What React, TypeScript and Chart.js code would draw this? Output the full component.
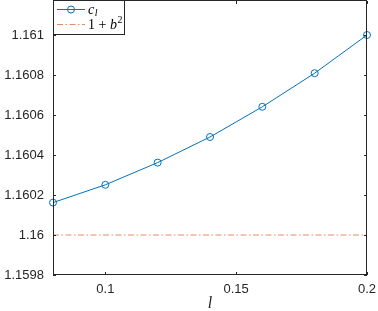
import React, { useEffect, useRef } from "react";
import { Chart, registerables } from "chart.js";

Chart.register(...registerables);

// ---- data ----
const lValues = [0.08, 0.1, 0.12, 0.14, 0.16, 0.18, 0.2];
const clValues = [1.160162, 1.160251, 1.160362, 1.160490, 1.160641, 1.160809, 1.161];
const bLevel = 1.16; // 1 + b^2
const xTicks = [0.1, 0.15, 0.2];
const yTicks = [1.1598, 1.16, 1.1602, 1.1604, 1.1606, 1.1608, 1.161];
const xRange = [0.08, 0.2];
const yRange = [1.1598, 1.16117];

const BLUE = "#0072BD";
const ORANGE = "#E98A5E";
const AXIS = "#262626";
const DASHDOT = [6, 2.5, 1.5, 2.5];

const fmt = (v: number) => String(parseFloat(v.toFixed(6)));

const framePlugin = {
  id: "frame",
  afterDraw(chart: any) {
    const { ctx, chartArea: a, scales } = chart;
    ctx.save();
    ctx.strokeStyle = AXIS;
    ctx.lineWidth = 1;
    const tl = 3;
    const line = (x1: number, y1: number, x2: number, y2: number) => {
      ctx.beginPath();
      ctx.moveTo(x1, y1);
      ctx.lineTo(x2, y2);
      ctx.stroke();
    };
    for (const v of xTicks) {
      const px = Math.round(scales.x.getPixelForValue(v)) + 0.5;
      line(px, a.bottom, px, a.bottom - tl);
      line(px, a.top, px, a.top + tl);
    }
    for (const v of yTicks) {
      const py = Math.round(scales.y.getPixelForValue(v)) + 0.5;
      line(a.left, py, a.left + tl, py);
      line(a.right, py, a.right - tl, py);
    }
    ctx.strokeRect(a.left + 0.5, a.top - 0.5, a.right - a.left - 1, a.bottom - a.top);

    // legend
    const lx = a.left + 0.5, ly = 0.5, lw = 71, lh = 34;
    ctx.fillStyle = "#ffffff";
    ctx.fillRect(lx, ly, lw, lh);
    ctx.strokeRect(lx, ly, lw, lh);
    const y1 = 9.5, y2 = 24.5;
    // entry 1
    ctx.strokeStyle = BLUE;
    line(57, y1, 85, y1);
    ctx.beginPath();
    ctx.arc(71, y1, 3.5, 0, Math.PI * 2);
    ctx.stroke();
    // entry 2
    ctx.strokeStyle = ORANGE;
    ctx.setLineDash(DASHDOT);
    line(57, y2, 85, y2);
    ctx.setLineDash([]);
    ctx.fillStyle = "#000000";
    ctx.textBaseline = "alphabetic";
    ctx.font = "italic 14px 'Liberation Serif'";
    ctx.fillText("c", 88, y1 + 4);
    const cw = ctx.measureText("c").width;
    ctx.font = "italic 10px 'Liberation Serif'";
    ctx.fillText("l", 88 + cw + 0.5, y1 + 6.5);
    ctx.font = "14px 'Liberation Serif'";
    let x = 88;
    ctx.fillText("1 + ", x, y2 + 4.5);
    x += ctx.measureText("1 + ").width;
    ctx.font = "italic 14px 'Liberation Serif'";
    ctx.fillText("b", x, y2 + 4.5);
    x += ctx.measureText("b").width + 0.5;
    ctx.font = "10px 'Liberation Serif'";
    ctx.fillText("2", x, y2 - 1.5);
    ctx.restore();
  },
};

export default function App() {
  const ref = useRef<HTMLCanvasElement>(null);
  useEffect(() => {
    if (!ref.current) return;
    const chart = new Chart(ref.current, {
      type: "line",
      data: {
        datasets: [
          {
            label: "c_l",
            data: lValues.map((x, i) => ({ x, y: clValues[i] })),
            borderColor: BLUE,
            borderWidth: 1,
            pointRadius: 3.5,
            pointBorderWidth: 1,
            pointBackgroundColor: "rgba(0,0,0,0)",
            pointBorderColor: BLUE,
            tension: 0,
            clip: 6,
          },
          {
            label: "1+b^2",
            data: [
              { x: xRange[0], y: bLevel },
              { x: xRange[1], y: bLevel },
            ],
            borderColor: ORANGE,
            borderWidth: 1,
            borderDash: DASHDOT,
            pointRadius: 0,
          },
        ],
      },
      options: {
        animation: false,
        responsive: false,
        layout: { autoPadding: false, padding: { left: 0, right: 11, top: 1, bottom: 0 } },
        plugins: { legend: { display: false }, tooltip: { enabled: false } },
        scales: {
          x: {
            type: "linear",
            min: xRange[0],
            max: xRange[1],
            afterBuildTicks: (s: any) => {
              s.ticks = xTicks.map((value) => ({ value }));
            },
            afterFit: (s: any) => {
              s.height = 36;
              s.paddingLeft = 0;
              s.paddingRight = 0;
            },
            grid: { display: false, drawTicks: false },
            border: { display: false },
            ticks: {
              padding: 7,
              color: AXIS,
              font: { family: "'Liberation Sans', Arial", size: 13 },
              callback: (v: any) => fmt(Number(v)),
              maxRotation: 0,
            },
            title: {
              display: true,
              text: "l",
              color: AXIS,
              padding: { top: 0, bottom: -2 },
              font: { family: "'Liberation Serif'", style: "italic", size: 16 },
            },
          },
          y: {
            type: "linear",
            min: yRange[0],
            max: yRange[1],
            afterBuildTicks: (s: any) => {
              s.ticks = yTicks.map((value) => ({ value }));
            },
            afterFit: (s: any) => {
              s.width = 53;
              s.paddingTop = 0;
              s.paddingBottom = 0;
            },
            grid: { display: false, drawTicks: false },
            border: { display: false },
            ticks: {
              padding: 9,
              color: AXIS,
              font: { family: "'Liberation Sans', Arial", size: 13 },
              callback: (v: any) => fmt(Number(v)),
            },
          },
        },
      },
      plugins: [framePlugin],
    });
    return () => chart.destroy();
  }, []);
  return (
    <div style={{ position: "fixed", left: 0, top: 0, width: 378, height: 311, background: "#fff" }}>
      <canvas ref={ref} width={378} height={311} />
    </div>
  );
}
